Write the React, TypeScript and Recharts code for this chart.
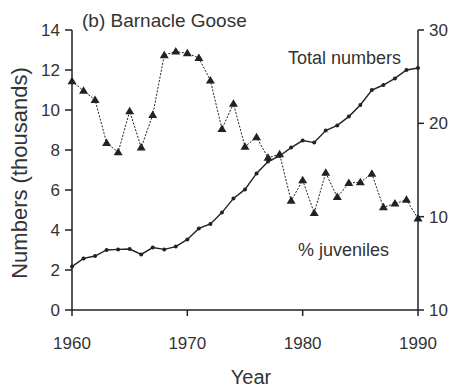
import { Line, LineChart, XAxis, YAxis } from 'recharts';

const years = [
  1960, 1961, 1962, 1963, 1964, 1965, 1966, 1967, 1968, 1969, 1970, 1971, 1972, 1973, 1974, 1975,
  1976, 1977, 1978, 1979, 1980, 1981, 1982, 1983, 1984, 1985, 1986, 1987, 1988, 1989, 1990,
];

// total numbers, thousands (left axis)
const totalNumbers = [
  2.17, 2.58, 2.7, 3.0, 3.03, 3.05, 2.78, 3.12, 3.03, 3.17, 3.53, 4.08, 4.3, 4.87, 5.58, 6.03,
  6.83, 7.42, 7.7, 8.12, 8.47, 8.37, 8.97, 9.23, 9.67, 10.25, 11.0, 11.25, 11.58, 12.0, 12.1,
];

// % juveniles (right axis)
const pctJuveniles = [
  24.5, 23.5, 22.5, 17.9, 16.9, 21.3, 17.4, 20.9, 27.3, 27.7, 27.5, 27.0, 24.6, 19.4, 22.1, 17.5,
  18.5, 16.3, 16.7, 11.7, 13.9, 10.4, 14.7, 12.1, 13.6, 13.7, 14.6, 11.0, 11.4, 11.8, 9.8,
];

const xTicks = [1960, 1970, 1980, 1990];
const leftTicks = [0, 2, 4, 6, 8, 10, 12, 14];
const rightTicks = [0, 10, 20, 30];
const rightTickLabels = ['10', '10', '20', '30'];

const data = years.map((year, i) => ({
  year,
  total: totalNumbers[i],
  juv: pctJuveniles[i],
}));

const FONT = '"Liberation Sans", Arial, Helvetica, sans-serif';
const INK = '#222';
const TEXT = '#333';

const tickStyle = { fontSize: 17, fill: TEXT, fontFamily: FONT };

function Triangle(props: { cx?: number; cy?: number }) {
  const { cx, cy } = props;
  if (cx == null || cy == null) return null;
  return (
    <path
      d={`M${cx},${cy - 4.5} L${cx + 4.5},${cy + 3} L${cx - 4.5},${cy + 3} Z`}
      fill={INK}
      stroke="none"
    />
  );
}

export default function App() {
  return (
    <div style={{ position: 'absolute', left: 0, top: 0, width: 452, height: 387, background: '#fff' }}>
      <LineChart width={452} height={387} data={data} margin={{ top: 30, right: 0, bottom: 0, left: 0 }}>
        <XAxis
          dataKey="year"
          type="number"
          domain={[1960, 1990]}
          ticks={xTicks}
          height={77}
          stroke={INK}
          strokeWidth={1.5}
          tickSize={6}
          tickMargin={21}
          tick={tickStyle}
        />
        <YAxis
          yAxisId="left"
          domain={[0, 14]}
          ticks={leftTicks}
          width={72}
          stroke={INK}
          strokeWidth={1.5}
          tickSize={7}
          tickMargin={5}
          tick={tickStyle}
        />
        <YAxis
          yAxisId="right"
          orientation="right"
          domain={[0, 30]}
          ticks={rightTicks}
          width={34}
          stroke={INK}
          strokeWidth={1.5}
          tickSize={6}
          tickMargin={5}
          tick={tickStyle}
          tickFormatter={(v: number) => rightTickLabels[rightTicks.indexOf(v)] ?? String(v)}
        />
        <Line
          yAxisId="left"
          dataKey="total"
          type="linear"
          stroke={INK}
          strokeWidth={1.4}
          dot={{ r: 2, fill: INK, stroke: 'none' }}
          isAnimationActive={false}
        />
        <Line
          yAxisId="right"
          dataKey="juv"
          type="linear"
          stroke={INK}
          strokeWidth={1}
          strokeDasharray="2 1.5"
          dot={<Triangle />}
          isAnimationActive={false}
        />
      </LineChart>
      <svg
        width={452}
        height={387}
        style={{ position: 'absolute', left: 0, top: 0, pointerEvents: 'none' }}
        fontFamily={FONT}
        fill={TEXT}
      >
        <text x={82} y={27} fontSize={19}>(b) Barnacle Goose</text>
        <text x={288} y={64} fontSize={18}>Total numbers</text>
        <text x={298} y={256} fontSize={18}>% juveniles</text>
        <text x={251} y={384} fontSize={20} textAnchor="middle">Year</text>
        <text x={27} y={173} fontSize={22} textAnchor="middle" transform="rotate(-90, 27, 173)">
          Numbers (thousands)
        </text>
      </svg>
    </div>
  );
}
